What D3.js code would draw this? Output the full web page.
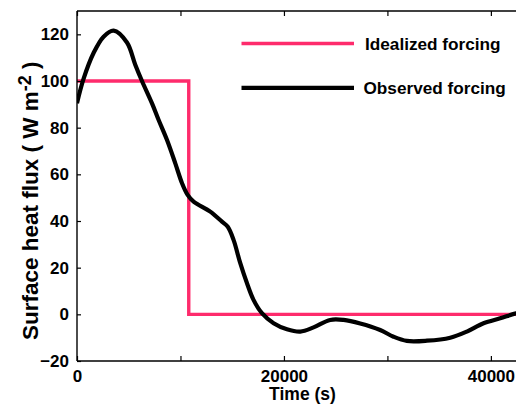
<!DOCTYPE html>
<html>
<head>
<meta charset="utf-8">
<script src="https://cdn.jsdelivr.net/npm/d3@7"></script>
<style>
  html, body { margin: 0; padding: 0; background: #ffffff; }
  svg { display: block; }
  text { font-family: "Liberation Sans", Arial, Helvetica, sans-serif; font-weight: bold; fill: #000; }
</style>
</head>
<body>
<svg id="chart" width="516" height="405"></svg>
<script>
// Time (s) and surface heat flux (W m^-2) for the two forcing cases
const observedTime = [0, 640, 1600, 2570, 3540, 4830, 5630, 6280, 7250, 7880, 8700, 9500,
  10150, 10690, 11270, 12880, 14010, 14570, 15130, 15780, 16430, 17060, 17870, 19000,
  20290, 21580, 22860, 24470, 25760, 27370, 29300, 30590, 31880, 33820, 36070, 37680,
  39290, 40900, 42440, 43200];
const observedFlux = [90.5, 101, 112, 119, 121.6, 116.5, 107, 100, 90.4, 83.4, 74.7, 64.7,
  56.2, 51.2, 48.3, 44, 39.7, 37.5, 31.9, 21.9, 13.3, 6.2, 0.5, -3.8,
  -6.4, -7.4, -5.6, -2.4, -2.4, -3.9, -6.7, -9.6, -11.4, -11.3, -10, -7.4,
  -3.8, -1.7, 0.4, 1.0];

const idealizedTime = [0, 10800, 10800, 43200];
const idealizedFlux = [100, 100, 0, 0];

const xTicks = [0, 10000, 20000, 30000, 40000];
const xTickLabels = ["0", "", "20000", "", "40000"];
const yTicks = [-20, 0, 20, 40, 60, 80, 100, 120];

const legendLabels = ["Idealized forcing", "Observed forcing"];
const seriesColors = ["#fe2b6c", "#000000"];

const svg = d3.select("#chart");
const mLeft = 77, mRight = 524, mTop = 11, mBottom = 361;

const x = d3.scaleLinear().domain([0, 43200]).range([mLeft, mRight]);
const y = d3.scaleLinear().domain([-20, 130]).range([mBottom, mTop]);

svg.append("defs").append("clipPath").attr("id", "plotclip")
  .append("rect").attr("x", mLeft).attr("y", mTop).attr("width", mRight - mLeft).attr("height", mBottom - mTop);

const plot = svg.append("g").attr("clip-path", "url(#plotclip)");

// Idealized step forcing
plot.append("path")
  .datum(idealizedTime.map((t, i) => [t, idealizedFlux[i]]))
  .attr("d", d3.line().x(d => x(d[0])).y(d => y(d[1])))
  .attr("fill", "none")
  .attr("stroke", seriesColors[0])
  .attr("stroke-width", 3.4);

// Observed forcing
plot.append("path")
  .datum(observedTime.map((t, i) => [t, observedFlux[i]]))
  .attr("d", d3.line().x(d => x(d[0])).y(d => y(d[1])).curve(d3.curveCatmullRom.alpha(0.5)))
  .attr("fill", "none")
  .attr("stroke", seriesColors[1])
  .attr("stroke-width", 4.2)
  .attr("stroke-linejoin", "round");

// Axes: ticks point inward, mirrored on top
const xAxisBottom = d3.axisBottom(x).tickValues(xTicks).tickSizeInner(-5).tickSizeOuter(0)
  .tickFormat((d, i) => xTickLabels[i]).tickPadding(8.5);
const gx = svg.append("g").attr("transform", `translate(0,${mBottom})`).call(xAxisBottom);
gx.select(".domain").remove();
gx.selectAll("text").attr("font-size", 17).attr("font-family", null);

const xAxisTop = d3.axisTop(x).tickValues(xTicks).tickSizeInner(-5).tickSizeOuter(0).tickFormat("");
const gxt = svg.append("g").attr("transform", `translate(0,${mTop})`).call(xAxisTop);
gxt.select(".domain").remove();

const yAxis = d3.axisLeft(y).tickValues(yTicks).tickSizeInner(-4).tickSizeOuter(0).tickPadding(8);
const gy = svg.append("g").attr("transform", `translate(${mLeft},0)`).call(yAxis);
gy.select(".domain").remove();
gy.selectAll("text").attr("font-size", 17).attr("font-family", null);

svg.selectAll(".tick line").attr("stroke", "#000").attr("stroke-width", 1.2);

// Axis frame lines
svg.append("line").attr("x1", mLeft).attr("x2", mLeft).attr("y1", mTop).attr("y2", mBottom)
  .attr("stroke", "#000").attr("stroke-width", 1.4);
svg.append("line").attr("x1", mLeft).attr("x2", 516).attr("y1", mBottom).attr("y2", mBottom)
  .attr("stroke", "#000").attr("stroke-width", 1.4);
svg.append("line").attr("x1", mLeft).attr("x2", 516).attr("y1", mTop).attr("y2", mTop)
  .attr("stroke", "#000").attr("stroke-width", 1.4);

// Axis titles
svg.append("text")
  .attr("x", (mLeft + mRight) / 2 + 2).attr("y", 400)
  .attr("text-anchor", "middle").attr("font-size", 17.5)
  .text("Time (s)");

const yTitle = svg.append("text")
  .attr("transform", "translate(37.5,340) rotate(-90)")
  .attr("text-anchor", "start").attr("font-size", 22.5);
yTitle.append("tspan").text("Surface heat flux ( W m");
yTitle.append("tspan").attr("font-size", 18).attr("dy", -7).text("-2");
yTitle.append("tspan").attr("dy", 7).text(" )");

// Legend
const legend = svg.append("g");
legendLabels.forEach((label, i) => {
  const ly = 43.5 + i * 44.3;
  legend.append("line")
    .attr("x1", 241.5).attr("x2", 354).attr("y1", ly).attr("y2", ly)
    .attr("stroke", seriesColors[i]).attr("stroke-width", i === 0 ? 3.4 : 4.2);
  legend.append("text")
    .attr("x", i === 0 ? 365 : 363.5).attr("y", ly + 6)
    .attr("font-size", 17.2)
    .text(label);
});
</script>
</body>
</html>
